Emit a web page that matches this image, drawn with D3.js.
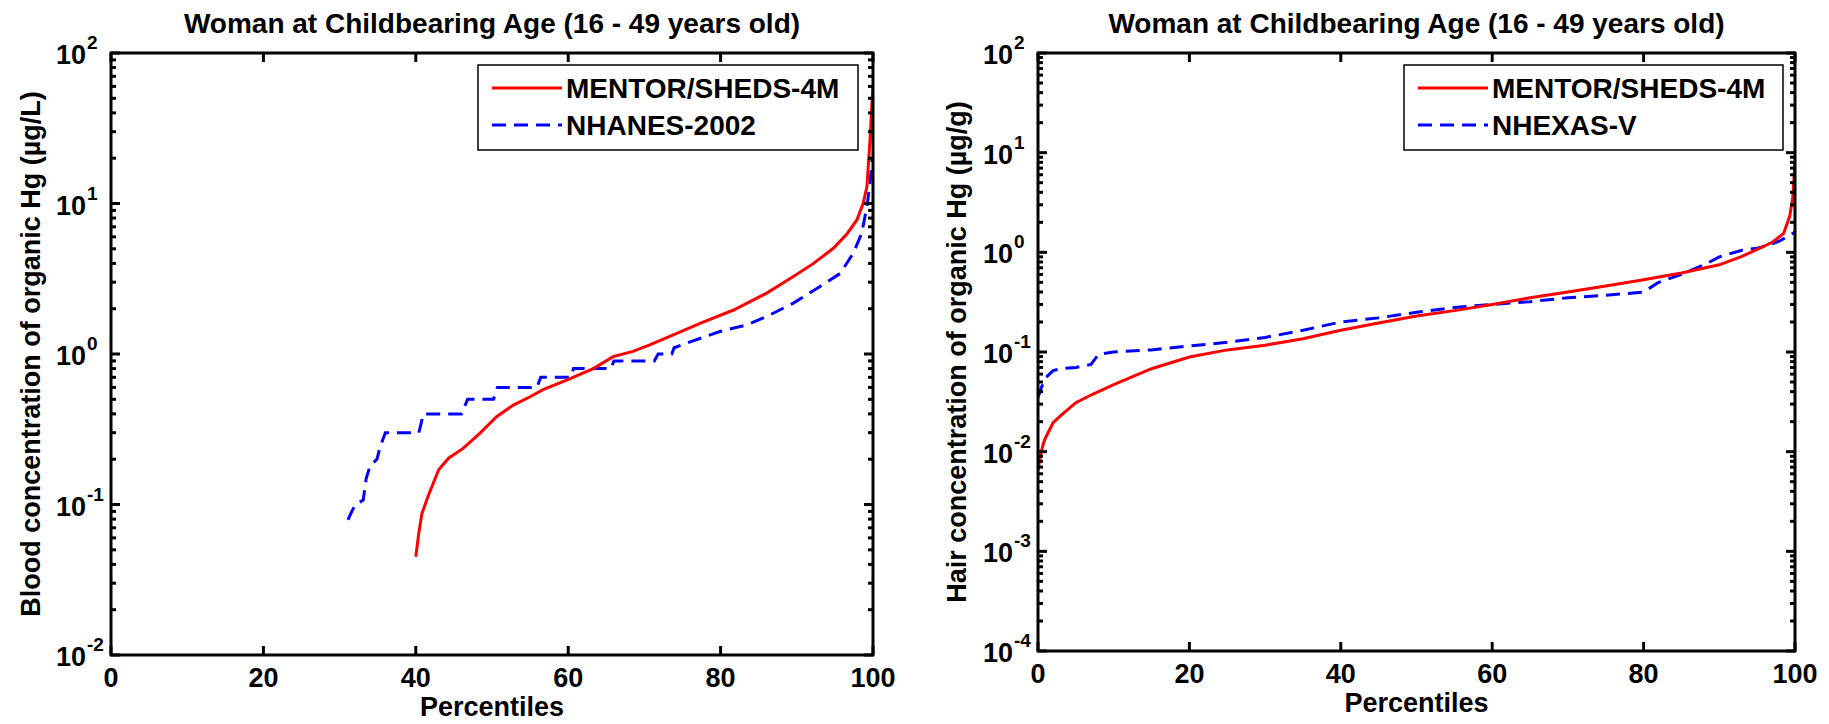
<!DOCTYPE html>
<html>
<head>
<meta charset="utf-8">
<script src="https://cdn.jsdelivr.net/npm/d3@7"></script>
<style>
  html, body { margin: 0; padding: 0; background: #fff; }
  svg { display: block; }
  text { font-family: "Liberation Sans", Arial, Helvetica, sans-serif; fill: #000; font-weight: bold; }
</style>
</head>
<body>
<svg id="fig" width="1829" height="724"></svg>
<script>
// ---- Blood organic Hg (µg/L), women 16-49 ----
const bloodModelPct = [40, 40.4, 40.8, 41.6, 43.0, 44.3, 46.2, 48.4, 50.6, 52.8, 55.0, 56.7, 59.8, 63.3, 65.9, 68.5, 70.7, 73.8, 77.3, 81.7, 86.0, 89.5, 92.2, 94.8, 96.6, 97.9, 98.7, 99.2, 99.6, 99.9, 100];
const bloodModelVal = [0.045, 0.065, 0.087, 0.113, 0.17, 0.203, 0.236, 0.297, 0.383, 0.458, 0.52, 0.58, 0.67, 0.80, 0.96, 1.04, 1.15, 1.34, 1.6, 1.96, 2.53, 3.26, 4.0, 5.04, 6.3, 7.8, 10, 12.9, 26, 50, 60];

const bloodObsPct = [31.1, 31.6, 32.1, 33.1, 33.5, 34.0, 34.9, 35.3, 36.0, 40.4, 41.0, 46.0, 46.8, 50.2, 50.7, 55.9, 56.4, 60.3, 60.7, 65.6, 66.0, 71.3, 71.8, 73.6, 73.9, 75.5, 79.9, 83.4, 86.0, 89.5, 93.0, 95.7, 97.4, 98.5, 99.2, 99.6, 99.9];
const bloodObsVal = [0.079, 0.09, 0.1, 0.107, 0.15, 0.18, 0.2, 0.24, 0.3, 0.3, 0.4, 0.4, 0.5, 0.5, 0.6, 0.6, 0.7, 0.7, 0.8, 0.8, 0.9, 0.9, 1.0, 1.0, 1.1, 1.18, 1.41, 1.56, 1.77, 2.17, 2.8, 3.43, 4.67, 6.3, 9.5, 13.6, 20];

// ---- Hair organic Hg (µg/g), women 16-49 ----
const hairModelPct = [0, 0.3, 0.7, 1, 2, 3, 5, 7, 10, 15, 20, 25, 30, 35, 40, 45, 50, 55, 60, 65, 70, 75, 80, 85, 90, 93, 95, 97, 98.5, 99.3, 99.7, 100];
const hairModelVal = [0.0065, 0.009, 0.012, 0.0138, 0.0195, 0.023, 0.031, 0.037, 0.047, 0.068, 0.089, 0.105, 0.117, 0.136, 0.165, 0.195, 0.23, 0.26, 0.3, 0.35, 0.40, 0.46, 0.53, 0.62, 0.75, 0.91, 1.07, 1.26, 1.55, 2.3, 3.5, 8];

const hairObsPct = [0, 0.5, 1, 2, 3, 5, 7, 8, 10, 15, 20, 25, 30, 35, 40, 45, 50, 55, 60, 65, 70, 75, 80, 82, 85, 88, 90, 93, 95, 96, 98, 100];
const hairObsVal = [0.035, 0.045, 0.055, 0.065, 0.068, 0.07, 0.075, 0.095, 0.1, 0.105, 0.115, 0.125, 0.14, 0.165, 0.2, 0.22, 0.25, 0.28, 0.3, 0.32, 0.35, 0.37, 0.40, 0.5, 0.6, 0.75, 0.9, 1.05, 1.1, 1.15, 1.3, 1.6];

const xTicks = [0, 20, 40, 60, 80, 100];
const titleText = "Woman at Childbearing Age (16 - 49 years old)";
const xLabel = "Percentiles";
const modelName = "MENTOR/SHEDS-4M";

const panels = [
  {
    box: { left: 111, right: 873, top: 53, bottom: 655 },
    yDomain: [1e-2, 1e2], yExp: [-2, -1, 0, 1, 2],
    yLabel: "Blood concentration of organic Hg (µg/L)", yLabelX: 40,
    obsName: "NHANES-2002",
    model: bloodModelPct.map((p, i) => [p, bloodModelVal[i]]),
    obs: bloodObsPct.map((p, i) => [p, bloodObsVal[i]]),
    legend: { left: 478, right: 858, top: 65, bottom: 150 }
  },
  {
    box: { left: 1038, right: 1795, top: 53, bottom: 651 },
    yDomain: [1e-4, 1e2], yExp: [-4, -3, -2, -1, 0, 1, 2],
    yLabel: "Hair concentration of organic Hg (µg/g)", yLabelX: 966,
    obsName: "NHEXAS-V",
    model: hairModelPct.map((p, i) => [p, hairModelVal[i]]),
    obs: hairObsPct.map((p, i) => [p, hairObsVal[i]]),
    legend: { left: 1404, right: 1783, top: 65, bottom: 150 }
  }
];

const svg = d3.select("#fig");
const FS_TICK = 27, FS_LABEL = 27, FS_TITLE = 28, FS_LEG = 28;

panels.forEach(cfg => {
  const b = cfg.box;
  const x = d3.scaleLinear().domain([0, 100]).range([b.left, b.right]);
  const y = d3.scaleLog().domain(cfg.yDomain).range([b.bottom, b.top]);
  const g = svg.append("g");

  // data lines, clipped to the axes box
  const clipId = "clip" + b.left;
  svg.append("clipPath").attr("id", clipId)
    .append("rect").attr("x", b.left).attr("y", b.top)
    .attr("width", b.right - b.left).attr("height", b.bottom - b.top);

  const line = d3.line().x(d => x(d[0])).y(d => y(d[1]));
  const lines = g.append("g").attr("clip-path", `url(#${clipId})`);
  lines.append("path").datum(cfg.obs).attr("d", line)
    .attr("fill", "none").attr("stroke", "#0000ff").attr("stroke-width", 3)
    .attr("stroke-dasharray", "14,8");
  lines.append("path").datum(cfg.model).attr("d", line)
    .attr("fill", "none").attr("stroke", "#ff0000").attr("stroke-width", 3);

  // x major ticks, inside, bottom and top
  const tk = g.append("g").attr("stroke", "#000").attr("stroke-width", 3);
  xTicks.forEach(t => {
    tk.append("line").attr("x1", x(t)).attr("x2", x(t)).attr("y1", b.bottom).attr("y2", b.bottom - 9);
    tk.append("line").attr("x1", x(t)).attr("x2", x(t)).attr("y1", b.top).attr("y2", b.top + 9);
  });
  // log y ticks (decades long, 2..9 short), inside, left and right
  const lo = cfg.yExp[0], hi = cfg.yExp[cfg.yExp.length - 1];
  for (let e = lo; e <= hi; e++) {
    for (let m = 1; m <= 9; m++) {
      const v = m * Math.pow(10, e);
      if (v > cfg.yDomain[1] * 1.0001) break;
      const len = m === 1 ? 9 : 5;
      const yy = y(v);
      tk.append("line").attr("x1", b.left).attr("x2", b.left + len).attr("y1", yy).attr("y2", yy);
      tk.append("line").attr("x1", b.right).attr("x2", b.right - len).attr("y1", yy).attr("y2", yy);
    }
  }

  // axes frame
  g.append("rect").attr("x", b.left).attr("y", b.top)
    .attr("width", b.right - b.left).attr("height", b.bottom - b.top)
    .attr("fill", "none").attr("stroke", "#000").attr("stroke-width", 3);

  // x tick labels
  xTicks.forEach(t => {
    g.append("text").attr("x", x(t)).attr("y", b.bottom + 32)
      .attr("text-anchor", "middle").attr("font-size", FS_TICK).text(t);
  });
  // y tick labels as 10 with superscript exponent
  cfg.yExp.forEach(e => {
    const yy = y(Math.pow(10, e));
    g.append("text").attr("x", b.left - 25).attr("y", yy + 11)
      .attr("text-anchor", "end").attr("font-size", FS_TICK).text("10");
    g.append("text").attr("x", b.left - 24).attr("y", yy - 4)
      .attr("text-anchor", "start").attr("font-size", 19).text(String(e));
  });

  // axis labels and title
  g.append("text").attr("x", (b.left + b.right) / 2).attr("y", b.bottom + 61)
    .attr("text-anchor", "middle").attr("font-size", FS_LABEL).text(xLabel);
  g.append("text").attr("transform", `translate(${cfg.yLabelX},${(b.top + b.bottom) / 2}) rotate(-90)`)
    .attr("text-anchor", "middle").attr("font-size", FS_LABEL).text(cfg.yLabel);
  g.append("text").attr("x", (b.left + b.right) / 2).attr("y", 33)
    .attr("text-anchor", "middle").attr("font-size", FS_TITLE).text(titleText);

  // legend
  const L = cfg.legend;
  const lg = g.append("g");
  lg.append("rect").attr("x", L.left).attr("y", L.top)
    .attr("width", L.right - L.left).attr("height", L.bottom - L.top)
    .attr("fill", "#fff").attr("stroke", "#000").attr("stroke-width", 1.5);
  const rows = [
    { name: modelName, color: "#ff0000", dash: null },
    { name: cfg.obsName, color: "#0000ff", dash: "14,8" }
  ];
  rows.forEach((r, i) => {
    const yy = L.top + 23 + i * 37;
    lg.append("line").attr("x1", L.left + 14).attr("x2", L.left + 84)
      .attr("y1", yy).attr("y2", yy)
      .attr("stroke", r.color).attr("stroke-width", 3)
      .attr("stroke-dasharray", r.dash);
    lg.append("text").attr("x", L.left + 88).attr("y", yy + 10)
      .attr("font-size", FS_LEG).text(r.name);
  });
});
</script>
</body>
</html>
